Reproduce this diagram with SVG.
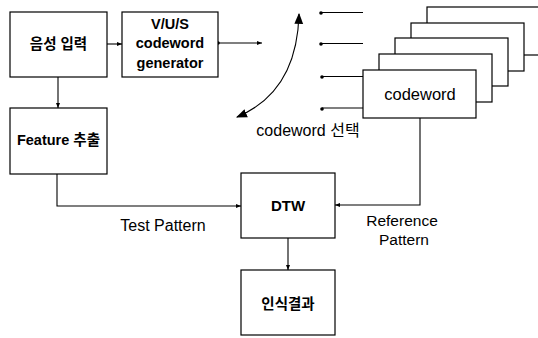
<svg xmlns="http://www.w3.org/2000/svg" width="538" height="338" viewBox="0 0 538 338">
<defs>
<style>
.box{fill:#fff;stroke:#000;stroke-width:1.2}
.ln{fill:none;stroke:#000;stroke-width:1.1}
.t{font-family:"Liberation Sans","Noto Sans CJK KR",sans-serif;fill:#000;text-anchor:middle}
.b{font-weight:bold;font-size:14.5px}
.n{font-size:16px}
</style>
<marker id="a" viewBox="0 0 10 10" refX="10" refY="5" markerWidth="5" markerHeight="5" orient="auto" markerUnits="userSpaceOnUse"><path d="M0,1 L10,5 L0,9 z" fill="#000"/></marker>
<marker id="big" viewBox="0 0 10 10" refX="9" refY="5" markerWidth="11" markerHeight="11" orient="auto-start-reverse" markerUnits="userSpaceOnUse"><path d="M0,1 L10,5 L0,9 z" fill="#000"/></marker>
</defs>
<rect width="538" height="338" fill="#fff"/>
<g id="connectors">
<path class="ln" d="M107,44 H122" marker-end="url(#a)"/>
<path class="ln" d="M58,77 V108" marker-end="url(#a)"/>
<circle cx="218" cy="43" r="1.8"/>
<path class="ln" d="M218,43 H262" marker-end="url(#a)"/>
<path class="ln" d="M299,14 Q297,92 237,117" marker-start="url(#big)" marker-end="url(#big)"/>
<circle cx="321" cy="13" r="1.8"/>
<path class="ln" d="M321,12.5 H363"/>
<circle cx="321" cy="44" r="1.8"/>
<path class="ln" d="M321,43.5 H363"/>
<circle cx="322" cy="77" r="1.8"/>
<path class="ln" d="M322,76.5 H363"/>
<circle cx="322" cy="109" r="1.8"/>
<path class="ln" d="M322,108 H363"/>
<path class="ln" d="M57,174 V206 H241" marker-end="url(#a)"/>
<path class="ln" d="M420,118 V205 H335" marker-end="url(#a)"/>
<path class="ln" d="M288,238 V270" marker-end="url(#a)"/>
</g>
<g id="voice-input">
<rect class="box" x="10" y="12" width="97" height="65"/>
<text class="t b" x="58.5" y="49">음성 입력</text>
</g>
<g id="vus-generator">
<rect class="box" x="122" y="12" width="96" height="65"/>
<text class="t b" x="170" y="29">V/U/S</text>
<text class="t b" x="170" y="48">codeword</text>
<text class="t b" x="170" y="68">generator</text>
</g>
<g id="feature">
<rect class="box" x="10" y="108" width="97" height="66"/>
<text class="t b" x="58.5" y="145">Feature 추출</text>
</g>
<g id="codeword-stack">
<rect class="box" x="427" y="7" width="125" height="48"/>
<rect class="box" x="411" y="23" width="113" height="48"/>
<rect class="box" x="395" y="38" width="113" height="48"/>
<rect class="box" x="379" y="54" width="113" height="48"/>
<rect class="box" x="363" y="70" width="113" height="48"/>
<text class="t" style="font-size:16.5px" x="420" y="100">codeword</text>
</g>
<g id="dtw">
<rect class="box" x="241" y="173" width="94" height="65"/>
<text class="t" style="font-weight:bold;font-size:15px" x="288" y="211">DTW</text>
</g>
<g id="result">
<rect class="box" x="241" y="270" width="94" height="65"/>
<text class="t b" x="288" y="309">인식결과</text>
</g>
<g id="labels">
<text class="t n" x="308" y="136">codeword 선택</text>
<text class="t n" x="163" y="231">Test Pattern</text>
<text class="t" style="font-size:15.5px" x="402" y="226">Reference</text>
<text class="t" style="font-size:15.5px" x="404" y="245">Pattern</text>
</g>
</svg>
